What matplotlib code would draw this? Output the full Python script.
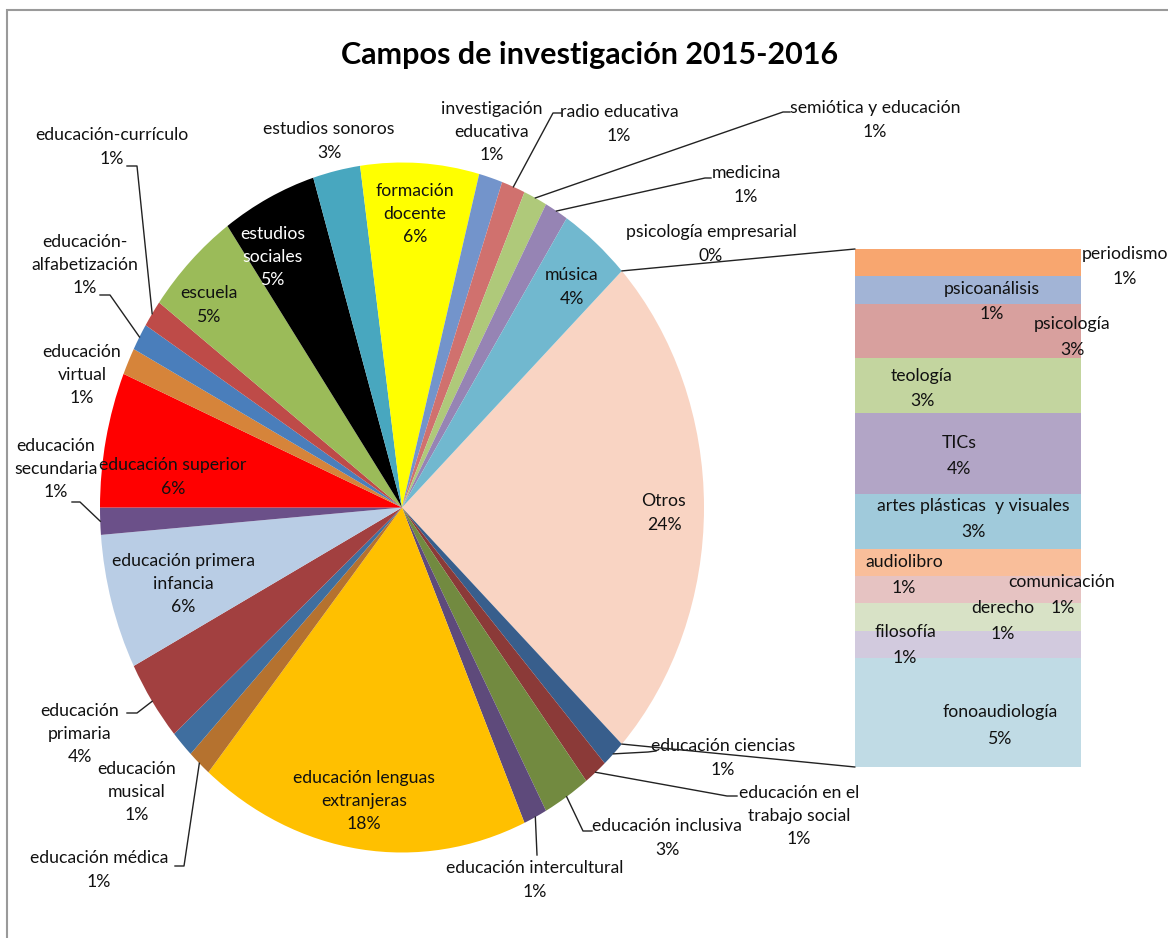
import numpy as np
import matplotlib.pyplot as plt
from matplotlib.patches import ConnectionPatch, Rectangle

plt.rcParams['font.family'] = ['Lato', 'DejaVu Sans']

# main pie, clockwise starting with "Otros" (counts of projects)
pie_names = ['Otros', 'educación ciencias', 'educación en el trabajo social',
             'educación inclusiva', 'educación intercultural',
             'educación lenguas extranjeras', 'educación médica', 'educación musical',
             'educación primaria', 'educación primera infancia', 'educación secundaria',
             'educación superior', 'educación virtual', 'educación-alfabetización',
             'educación-currículo', 'escuela', 'estudios sociales', 'estudios sonoros',
             'formación docente', 'investigación educativa', 'radio educativa',
             'semiótica y educación', 'medicina', 'psicología empresarial', 'música']
pie_counts = [19, 1, 1, 2, 1, 14, 1, 1, 3, 5, 1, 5, 1, 1, 1, 4, 4, 2, 5, 1, 1, 1, 1, 0, 3]
pie_text = ['Otros', 'educación ciencias', 'educación en el\ntrabajo social',
            'educación inclusiva', 'educación intercultural',
            'educación lenguas\nextranjeras', 'educación médica', 'educación\nmusical',
            'educación\nprimaria', 'educación primera\ninfancia', 'educación\nsecundaria',
            'educación superior', 'educación\nvirtual', 'educación-\nalfabetización',
            'educación-currículo', 'escuela', 'estudios\nsociales', 'estudios sonoros',
            'formación\ndocente', 'investigación\neducativa', 'radio educativa',
            'semiótica y educación', 'medicina', 'psicología empresarial', 'música']
pie_colors = ['#F9D4C3', '#385E8C', '#8B3A38', '#728A40', '#5E4A7B', '#FFC000',
              '#B5722F', '#3F6E9F', '#A24040', '#B9CDE5', '#6B5089', '#FF0000',
              '#D6843A', '#4A7EBB', '#BE4B48', '#9BBB59', '#000000', '#48A7BF',
              '#FFFF00', '#7394CB', '#D0716E', '#AFC97A', '#9684B4', '#F79646',
              '#71B8CF']

# secondary bar (breakdown of "Otros"), top to bottom
bar_names = ['periodismo', 'psicoanálisis', 'psicología', 'teología', 'TICs',
             'artes plásticas  y visuales', 'audiolibro', 'comunicación', 'derecho',
             'filosofía', 'fonoaudiología']
bar_counts = [1, 1, 2, 2, 3, 2, 1, 1, 1, 1, 4]
bar_colors = ['#F8A66F', '#A2B4D6', '#D8A09E', '#C3D59F', '#B2A5C6', '#A0CADB',
              '#F9BE9A', '#E6C3C2', '#D8E2C6', '#D2CADE', '#C0DBE5']

total = sum(pie_counts)

W, H = 1168, 938
fig = plt.figure(figsize=(W / 100, H / 100), dpi=100)

# pie geometry in pixels (the original is stretched vertically)
cx, cy, rx, ry = 402, 507.5, 302, 345
ax = fig.add_axes([(cx - rx) / W, (H - cy - ry) / H, 2 * rx / W, 2 * ry / H])

def to_data(x, y):
    return (x - cx) / rx, (cy - y) / ry

start = 360 * pie_counts[0] / total / 2
wedges, _ = ax.pie(pie_counts, colors=pie_colors, startangle=start, counterclock=False,
                   radius=1, wedgeprops=dict(linewidth=0))
ax.set_aspect('auto')
ax.set_xlim(-1, 1)
ax.set_ylim(-1, 1)
ax.axis('off')

pct = [f'{round(100 * c / total):.0f}%' for c in pie_counts]

# label centres (px) and leader elbows (px)
label_pos = {
    'Otros': (664, 513), 'música': (572, 287), 'formación docente': (415, 214),
    'estudios sociales': (273, 257), 'escuela': (209, 305),
    'educación superior': (173, 477), 'educación primera infancia': (183, 584),
    'educación lenguas extranjeras': (364, 801), 'estudios sonoros': (329, 141),
    'investigación educativa': (492, 132), 'radio educativa': (619, 124),
    'semiótica y educación': (875, 120), 'medicina': (746, 185),
    'psicología empresarial': (711, 244), 'educación-currículo': (112, 147),
    'educación-alfabetización': (85, 265), 'educación virtual': (82, 375),
    'educación secundaria': (56, 469), 'educación primaria': (80, 734),
    'educación musical': (137, 792), 'educación médica': (99, 870),
    'educación intercultural': (535, 880), 'educación inclusiva': (667, 838),
    'educación en el trabajo social': (799, 816), 'educación ciencias': (723, 758),
}
leaders = {
    'radio educativa': [(553, 113), (561, 113)],
    'semiótica y educación': [(783, 112), (790, 112)],
    'medicina': [(705, 178), (711, 178)],
    'educación-currículo': [(137, 166), (127, 166)],
    'educación-alfabetización': [(110, 295), (100, 295)],
    'educación secundaria': [(80, 502), (72, 502)],
    'educación primaria': [(137, 713), (127, 713)],
    'educación médica': [(184, 866), (175, 866)],
    'educación intercultural': [(537, 855)],
    'educación inclusiva': [(583, 831), (592, 831)],
    'educación en el trabajo social': [(727, 796), (737, 796)],
    'educación ciencias': [(648, 752), (656, 751)],
}

FS = 12.7
for i, name in enumerate(pie_names):
    w = wedges[i]
    mid = np.deg2rad((w.theta1 + w.theta2) / 2)
    x, y = label_pos[name]
    tcol = 'white' if pie_colors[i] == '#000000' else '#111111'
    ax.text(*to_data(x, y), pie_text[i] + '\n' + pct[i], ha='center', va='center',
            fontsize=FS, linespacing=1.55, color=tcol)
    if name in leaders:
        pts = [(np.cos(mid), np.sin(mid))] + [to_data(px, py) for px, py in leaders[name]]
        xs, ys = zip(*pts)
        ax.plot(xs, ys, color='#222222', lw=1.0, clip_on=False)

# stacked bar for "Otros"
bx0, bx1, by0, by1 = 855, 1081, 249, 767
ax2 = fig.add_axes([bx0 / W, (H - by1) / H, (bx1 - bx0) / W, (by1 - by0) / H])
bottoms = np.concatenate([[0], np.cumsum(bar_counts)[:-1]])
ax2.bar(0.5, bar_counts, width=1, bottom=bottoms, color=bar_colors, linewidth=0)
ax2.set_xlim(0, 1)
ax2.set_ylim(sum(bar_counts), 0)
ax2.axis('off')

# (name position, percent position) in px
bar_label_pos = {
    'periodismo': ((1125, 254), (1125, 279)),
    'psicoanálisis': ((992, 289), (992, 314)),
    'psicología': ((1072, 324), (1072, 350)),
    'teología': ((922, 376), (922, 401)),
    'TICs': ((959, 443), (959, 469)),
    'artes plásticas  y visuales': ((973, 506), (973, 532)),
    'audiolibro': ((904, 562), (904, 588)),
    'comunicación': ((1062, 582), (1063, 608)),
    'derecho': ((1003, 608), (1003, 634)),
    'filosofía': ((905, 632), (905, 658)),
    'fonoaudiología': ((1000, 712), (1000, 739)),
}
for i, name in enumerate(bar_names):
    (nx, ny), (qx, qy) = bar_label_pos[name]
    p = f'{round(100 * bar_counts[i] / total):.0f}%'
    fig.text(nx / W, 1 - ny / H, name, ha='center', va='center', fontsize=FS,
             color='#111111')
    fig.text(qx / W, 1 - qy / H, p, ha='center', va='center', fontsize=FS,
             color='#111111')

# connector lines between the "Otros" slice and the bar
a = np.deg2rad(start)
for sy, yb in [(1, 0), (-1, sum(bar_counts))]:
    con = ConnectionPatch(xyA=(np.cos(a), sy * np.sin(a)), coordsA=ax.transData,
                          xyB=(0, yb), coordsB=ax2.transData, color='#222222', lw=1.0)
    fig.add_artist(con)

fig.text(590 / W, 1 - 55 / H, 'Campos de investigación 2015-2016', ha='center',
         va='center', fontsize=22, fontweight='bold')

# chart area border (left/top visible)
fig.add_artist(Rectangle((7 / W, -0.1), 1.2, 1 - 10 / H + 0.1, transform=fig.transFigure,
                         fill=False, edgecolor='#9a9a9a', lw=1.5))

fig.savefig('out.png', dpi=100)
